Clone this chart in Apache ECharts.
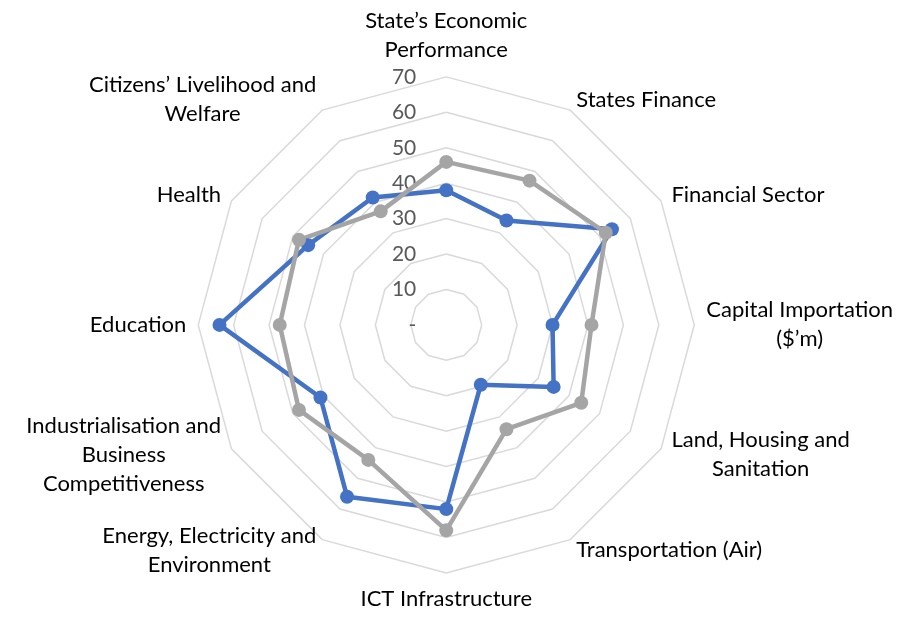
<!DOCTYPE html>
<html>
<head>
<meta charset="utf-8">
<script src="https://cdn.jsdelivr.net/npm/echarts@6/dist/echarts.min.js"></script>
<style>
  html, body { margin: 0; padding: 0; background: #fff; }
  #chart { width: 922px; height: 620px; }
</style>
</head>
<body>
<div id="chart"></div>
<script>
// indicator names, clockwise from the top
const categories = [
  'State\u2019s Economic\nPerformance',
  'States Finance',
  'Financial Sector',
  'Capital Importation\n($\u2019m)',
  'Land, Housing and\nSanitation',
  'Transportation (Air)',
  'ICT Infrastructure',
  'Energy, Electricity and\nEnvironment',
  'Industrialisation and\nBusiness\nCompetitiveness',
  'Education',
  'Health',
  'Citizens\u2019 Livelihood and\nWelfare'
];
const blueValues = [38, 34, 54, 30, 35, 19.5, 52, 56, 41, 64, 45, 41.5];
const grayValues = [46, 47, 52, 41, 44, 34, 58, 44, 48, 47, 48, 37];
const axisMax = 70;

// echarts radar runs counter-clockwise, so keep the first item and reverse the rest
const clockwise = arr => [arr[0]].concat(arr.slice(1).reverse());

const chart = echarts.init(document.getElementById('chart'));

const indicators = clockwise(categories).map((name, i) => {
  const ind = { name: name, min: 0, max: axisMax };
  if (i === 0) ind.axisLabel = { show: true };
  return ind;
});

chart.setOption({
  animation: false,
  radar: {
    center: ['48.4%', '52.4%'],
    radius: 248,
    startAngle: 90,
    splitNumber: 7,
    shape: 'polygon',
    indicator: indicators,
    axisName: {
      color: '#000',
      fontFamily: 'Lato',
      fontSize: 22,
      formatter: function (v) {
        return v.split('\n').map(s => '{a|' + s + '}').join('\n');
      },
      rich: {
        a: { align: 'center', fontFamily: 'Lato', fontSize: 22, lineHeight: 29, color: '#000' }
      }
    },
    nameGap: 12,
    axisLine: { show: false },
    axisTick: { show: false },
    axisLabel: {
      show: false,
      color: '#595959',
      fontFamily: 'Lato',
      fontSize: 21,
      margin: 30,
      formatter: v => (v === 0 ? '-' : v)
    },
    splitLine: { lineStyle: { color: '#d9d9d9', width: 1.5 } },
    splitArea: { show: false }
  },
  series: [{
    type: 'radar',
    symbol: 'circle',
    symbolSize: 14,
    data: [
      {
        value: clockwise(blueValues),
        name: 'Series 1',
        itemStyle: { color: '#4472C4' },
        lineStyle: { color: '#4472C4', width: 4.5 }
      },
      {
        value: clockwise(grayValues),
        name: 'Series 2',
        itemStyle: { color: '#A5A5A5' },
        lineStyle: { color: '#A5A5A5', width: 4.5 }
      }
    ]
  }]
});
</script>
</body>
</html>
